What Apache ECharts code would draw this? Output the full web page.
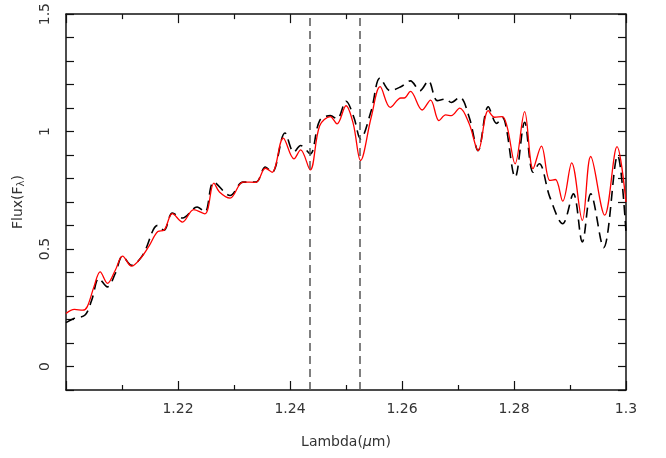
<!DOCTYPE html>
<html>
<head>
<meta charset="utf-8">
<script src="https://cdn.jsdelivr.net/npm/echarts@6/dist/echarts.min.js"></script>
<style>
    html, body { margin: 0; padding: 0; background: #fff; }
    #main { width: 666px; height: 458px; }
</style>
</head>
<body>
<div id="main"></div>
<script type="text/javascript">
    // red (solid) spectrum
    var lambdaRed = [1.2000, 1.2015, 1.2030, 1.2038, 1.2050, 1.2061, 1.2074, 1.2088, 1.2101, 1.2117,
        1.2133, 1.2149, 1.2164, 1.2175, 1.2190, 1.2208, 1.2228, 1.2248, 1.2264, 1.2274,
        1.2293, 1.2316, 1.2339, 1.2356, 1.2368, 1.2388, 1.2407, 1.2419, 1.2436, 1.2453,
        1.2472, 1.2484, 1.2500, 1.2513, 1.2526, 1.2545, 1.2561, 1.2579, 1.2598, 1.2604,
        1.2615, 1.2636, 1.2651, 1.2666, 1.2678, 1.2688, 1.2703, 1.2720, 1.2736, 1.2754,
        1.2765, 1.2779, 1.2788, 1.2802, 1.2819, 1.2834, 1.2849, 1.2864, 1.2874, 1.2887,
        1.2903, 1.2922, 1.2937, 1.2962, 1.2984, 1.3000];
    var fluxRed = [0.226, 0.243, 0.240, 0.255, 0.340, 0.403, 0.354, 0.410, 0.470, 0.427,
        0.460, 0.516, 0.575, 0.580, 0.651, 0.615, 0.668, 0.650, 0.781, 0.743,
        0.717, 0.785, 0.784, 0.844, 0.827, 0.972, 0.884, 0.922, 0.837, 1.025,
        1.064, 1.033, 1.110, 1.033, 0.877, 1.061, 1.191, 1.103, 1.143, 1.143,
        1.171, 1.092, 1.134, 1.047, 1.071, 1.068, 1.100, 1.033, 0.919, 1.089,
        1.061, 1.064, 1.018, 0.863, 1.085, 0.842, 0.938, 0.792, 0.796, 0.704,
        0.867, 0.622, 0.894, 0.644, 0.936, 0.700];

    // black (dashed) spectrum
    var lambdaBlack = [1.2000, 1.2015, 1.2034, 1.2046, 1.2059, 1.2074, 1.2088, 1.2101, 1.2117, 1.2137,
        1.2164, 1.2175, 1.2190, 1.2208, 1.2234, 1.2248, 1.2264, 1.2293, 1.2316, 1.2339,
        1.2356, 1.2368, 1.2391, 1.2407, 1.2419, 1.2436, 1.2453, 1.2472, 1.2484, 1.2500,
        1.2514, 1.2526, 1.2545, 1.2561, 1.2579, 1.2598, 1.2615, 1.2632, 1.2647, 1.2663,
        1.2678, 1.2688, 1.2703, 1.2720, 1.2736, 1.2754, 1.2769, 1.2779, 1.2802, 1.2819,
        1.2834, 1.2845, 1.2864, 1.2887, 1.2906, 1.2922, 1.2937, 1.2960, 1.2985, 1.3000];
    var fluxBlack = [0.187, 0.205, 0.219, 0.283, 0.375, 0.339, 0.396, 0.470, 0.431, 0.474,
        0.601, 0.580, 0.653, 0.632, 0.679, 0.658, 0.785, 0.728, 0.785, 0.785,
        0.849, 0.827, 0.994, 0.912, 0.941, 0.905, 1.047, 1.068, 1.054, 1.129,
        1.061, 0.969, 1.089, 1.228, 1.174, 1.191, 1.216, 1.174, 1.216, 1.132,
        1.139, 1.124, 1.146, 1.061, 0.919, 1.106, 1.035, 1.061, 0.806, 1.040,
        0.827, 0.863, 0.721, 0.608, 0.735, 0.530, 0.735, 0.506, 0.898, 0.573];

    // vertical marker lines
    var markerLambda = [1.2436, 1.2525];

    var toPairs = function (xs, ys) {
        var res = [];
        for (var i = 0; i < xs.length; i++) {
            res.push([xs[i], ys[i]]);
        }
        return res;
    };

    var font = 'DejaVu Sans';
    var axisCol = '#111';

    var myChart = echarts.init(document.getElementById('main'));

    var option = {
        backgroundColor: '#fff',
        animation: false,
        grid: { left: 66, right: 40, top: 13, bottom: 68 },
        xAxis: [
            {
                type: 'value',
                min: 1.2,
                max: 1.3,
                interval: 0.02,
                name: 'Lambda({mu|μ}m)',
                nameLocation: 'middle',
                nameGap: 45,
                nameTextStyle: {
                    fontFamily: font, fontSize: 14, color: '#333',
                    rich: { mu: { fontFamily: font, fontSize: 14, color: '#333', fontStyle: 'italic' } }
                },
                axisLine: { onZero: false, lineStyle: { color: axisCol, width: 1.5 } },
                axisTick: { inside: true, length: 9, lineStyle: { color: axisCol, width: 1.2 } },
                minorTick: { show: true, splitNumber: 2, length: 5, lineStyle: { color: axisCol, width: 1.2 } },
                splitLine: { show: false },
                axisLabel: {
                    fontFamily: font, fontSize: 14, color: '#333', margin: 12,
                    showMinLabel: false,
                    formatter: function (v) { return String(+v.toFixed(2)); }
                }
            },
            {
                type: 'value',
                position: 'top',
                min: 1.2,
                max: 1.3,
                interval: 0.02,
                axisLine: { onZero: false, lineStyle: { color: axisCol, width: 1.5 } },
                axisTick: { inside: true, length: 9, lineStyle: { color: axisCol, width: 1.2 } },
                minorTick: { show: true, splitNumber: 2, length: 5, lineStyle: { color: axisCol, width: 1.2 } },
                splitLine: { show: false },
                axisLabel: { show: false }
            }
        ],
        yAxis: [
            {
                type: 'value',
                min: -0.1,
                max: 1.5,
                interval: 0.1,
                name: 'Flux(F{sub|λ})',
                nameLocation: 'middle',
                nameRotate: 90,
                nameGap: 40,
                nameTextStyle: {
                    fontFamily: font, fontSize: 14, color: '#333',
                    rich: { sub: { fontFamily: font, fontSize: 10, color: '#333', verticalAlign: 'bottom', padding: [6, 0, 0, 0] } }
                },
                axisLine: { onZero: false, lineStyle: { color: axisCol, width: 1.5 } },
                axisTick: { inside: true, length: 8, lineStyle: { color: axisCol, width: 1.2 } },
                splitLine: { show: false },
                axisLabel: {
                    fontFamily: font, fontSize: 14, color: '#333', rotate: 90, margin: 14,
                    formatter: function (v) {
                        var r = Math.round(v * 2) / 2;
                        if (Math.abs(v - r) < 1e-6 && r >= 0) { return String(r); }
                        return '';
                    }
                }
            },
            {
                type: 'value',
                position: 'right',
                min: -0.1,
                max: 1.5,
                interval: 0.1,
                axisLine: { show: true, onZero: false, lineStyle: { color: axisCol, width: 1.5 } },
                axisTick: { show: true, inside: true, length: 8, lineStyle: { color: axisCol, width: 1.2 } },
                splitLine: { show: false },
                axisLabel: { show: false }
            }
        ],
        series: [
            {
                name: 'model',
                type: 'line',
                showSymbol: false,
                smooth: 0.35,
                lineStyle: { color: '#000', width: 1.6, type: [10, 6] },
                data: toPairs(lambdaBlack, fluxBlack),
                markLine: {
                    silent: true,
                    precision: 4,
                    symbol: ['none', 'none'],
                    label: { show: false },
                    lineStyle: { color: '#555', width: 1.5, type: [8, 5] },
                    data: markerLambda.map(function (v) { return { xAxis: v }; })
                }
            },
            {
                name: 'observed',
                type: 'line',
                showSymbol: false,
                smooth: 0.35,
                lineStyle: { color: '#f00', width: 1.3 },
                data: toPairs(lambdaRed, fluxRed)
            }
        ]
    };
    myChart.setOption(option);
</script>
</body>
</html>
